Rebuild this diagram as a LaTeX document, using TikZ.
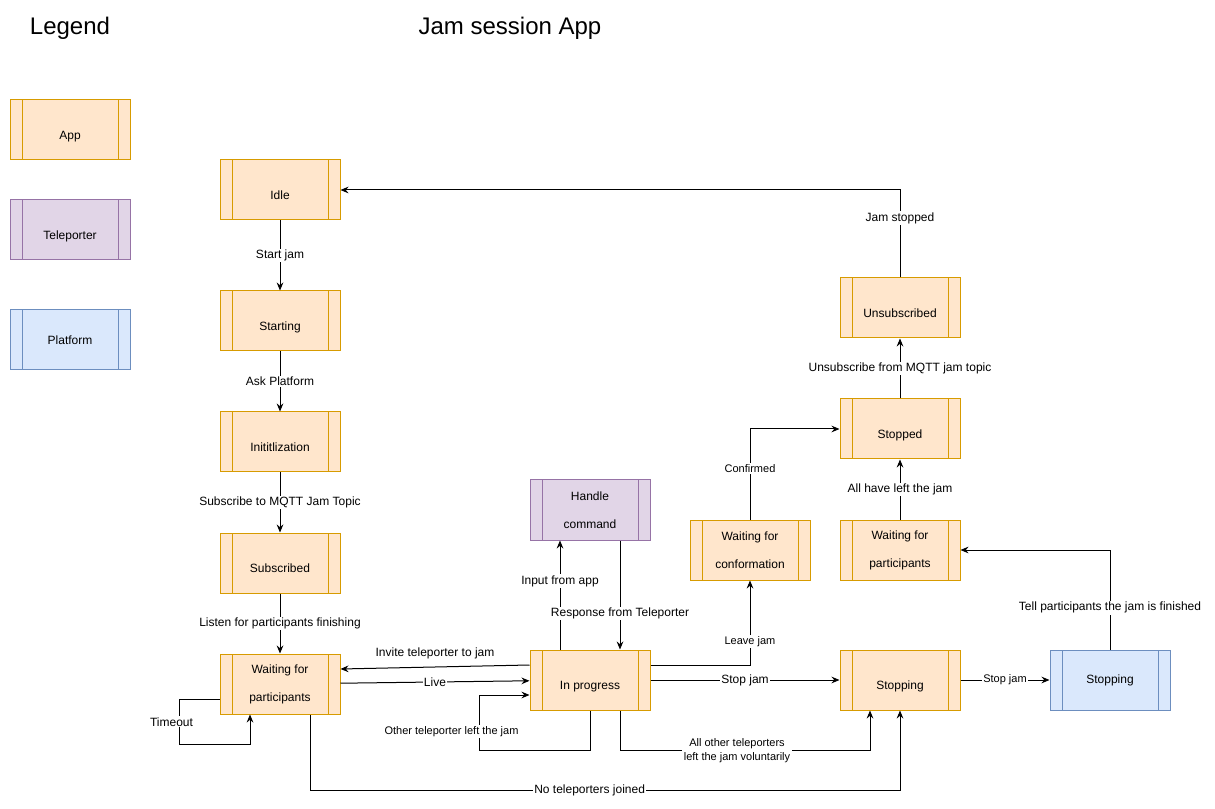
\documentclass[tikz,border=0pt]{standalone}
\usepackage{fontspec}
\setmainfont{Liberation Sans}
\usetikzlibrary{arrows.meta, positioning, calc}

\definecolor{appfill}{HTML}{FFE6CC}
\definecolor{appline}{HTML}{D79B00}
\definecolor{telfill}{HTML}{E1D5E7}
\definecolor{telline}{HTML}{9673A6}
\definecolor{platfill}{HTML}{DAE8FC}
\definecolor{platline}{HTML}{6C8EBF}

\begin{document}
\begin{tikzpicture}[
    x=0.75pt, y=-0.75pt,
    node distance=45pt and 45pt,
    proc/.style={rectangle, draw=#1, line width=0.75pt, minimum width=90pt,
                 minimum height=45pt, inner sep=0pt, align=center,
                 font=\fontsize{9}{21}\selectfont,
                 path picture={\draw[#1, line width=0.75pt]
                   ([xshift=9pt]path picture bounding box.north west) -- ([xshift=9pt]path picture bounding box.south west)
                   ([xshift=-9pt]path picture bounding box.north east) -- ([xshift=-9pt]path picture bounding box.south east);}},
    app/.style={proc=appline, fill=appfill},
    tel/.style={proc=telline, fill=telfill},
    plat/.style={proc=platline, fill=platfill},
    oneline/.style={text height=14pt, text depth=0pt},
    arr/.style={-{Stealth[length=6pt, width=5pt, inset=2pt]}, line width=0.75pt},
    lbl/.style={fill=white, inner sep=1pt, font=\fontsize{9}{11}\selectfont},
    slbl/.style={lbl, font=\fontsize{8.25}{10}\selectfont},
    title/.style={font=\fontsize{18}{22}\selectfont},
]
    \useasboundingbox (0,0) rectangle (1215,809);

    % legend
    \node[title] (legend)   at (70,28)  {Legend};
    \node[title] (apptitle) at (510,28) {Jam session App};
    \node[app, oneline]  (lapp)  at (70,130) {App};
    \node[tel, oneline]  (ltel)  at (70,230) {Teleporter};
    \node[plat]          (lplat) at (70,340) {Platform};

    % states
    \node[app, oneline] (idle) at (280,190) {Idle};
    \node[app, oneline, below=52.5pt of idle] (start) {Starting};
    \node[app, oneline, below=of start]       (init)  {Inititlization};
    \node[app, oneline, below=of init]        (sub)   {Subscribed};
    \node[app, below=of sub]                  (wp1)   {Waiting for\\participants};
    \node[app, oneline] (ip)    at (590,680)  {In progress};
    \node[tel]          (hc)    at (590,510)  {Handle\\command};
    \node[app]          (wc)    at (750,550)  {Waiting for\\conformation};
    \node[app, oneline] (stopa) at (900,680)  {Stopping};
    \node[app]          (wp2)   at (900,550)  {Waiting for\\participants};
    \node[app, oneline, above=of wp2]     (stopped) {Stopped};
    \node[app, oneline, above=of stopped] (unsub)   {Unsubscribed};
    \node[plat]         (stopp) at (1110,680) {Stopping};

    % transitions
    \draw[arr] (idle)  -- node[lbl]{Start jam} (start);
    \draw[arr] (start) -- node[lbl]{Ask Platform} (init);
    \draw[arr] (init)  -- node[lbl]{Subscribe to MQTT Jam Topic} (sub);
    \draw[arr] (sub)   -- node[lbl]{Listen for participants finishing} (wp1);
    \draw[arr] ($(ip.west)+(0,-15)$) -- node[lbl, fill=none, above=5pt]{Invite teleporter to jam} ($(wp1.east)+(0,-15)$);
    \draw[arr] (wp1) -- node[lbl]{Live} (ip);
    \draw[arr] ($(wp1.west)+(0,15)$) -| node[lbl, pos=0.75, xshift=-6pt]{Timeout}
        ($(wp1.south west)+(-40,30)$) -| ($(wp1.south)+(-30,0)$);
    \draw[arr] (ip.south) |- ($(ip.south west)+(-50,40)$)
        |- node[slbl, pos=0.17, xshift=-21pt]{Other teleporter left the jam} ($(ip.west)+(0,15)$);
    \draw[arr] ($(ip.south)+(30,0)$) |- node[slbl, pos=0.734, align=center]{All other teleporters\\left the jam voluntarily}
        ($(stopa.south)+(-30,40)$) -- ($(stopa.south)+(-30,0)$);
    \draw[arr] ($(wp1.south)+(30,0)$) |- node[lbl, pos=0.737]{No teleporters joined}
        ($(stopa.south)+(0,80)$) -- (stopa.south);
    \draw[arr] ($(ip.north)+(-30,0)$) -- node[lbl, pos=0.627]{Input from app} ($(hc.south)+(-30,0)$);
    \draw[arr] ($(hc.south)+(30,0)$) -- node[lbl, pos=0.67]{Response from Teleporter} ($(ip.north)+(30,0)$);
    \draw[arr] ($(ip.east)+(0,-15)$) -| node[slbl, pos=0.64]{Leave jam} (wc);
    \draw[arr] (wc) |- node[slbl, pos=0.28]{Confirmed} (stopped);
    \draw[arr] (ip) -- node[lbl]{Stop jam} (stopa);
    \draw[arr] (stopa) -- node[slbl]{Stop jam} (stopp);
    \draw[arr] (stopp) |- node[lbl, pos=0.21]{Tell participants the jam is finished} (wp2);
    \draw[arr] (wp2) -- node[lbl]{All have left the jam} (stopped);
    \draw[arr] (stopped) -- node[lbl]{Unsubscribe from MQTT jam topic} (unsub);
    \draw[arr] (unsub) |- node[lbl, pos=0.34]{Jam stopped} (idle);
\end{tikzpicture}
\end{document}
